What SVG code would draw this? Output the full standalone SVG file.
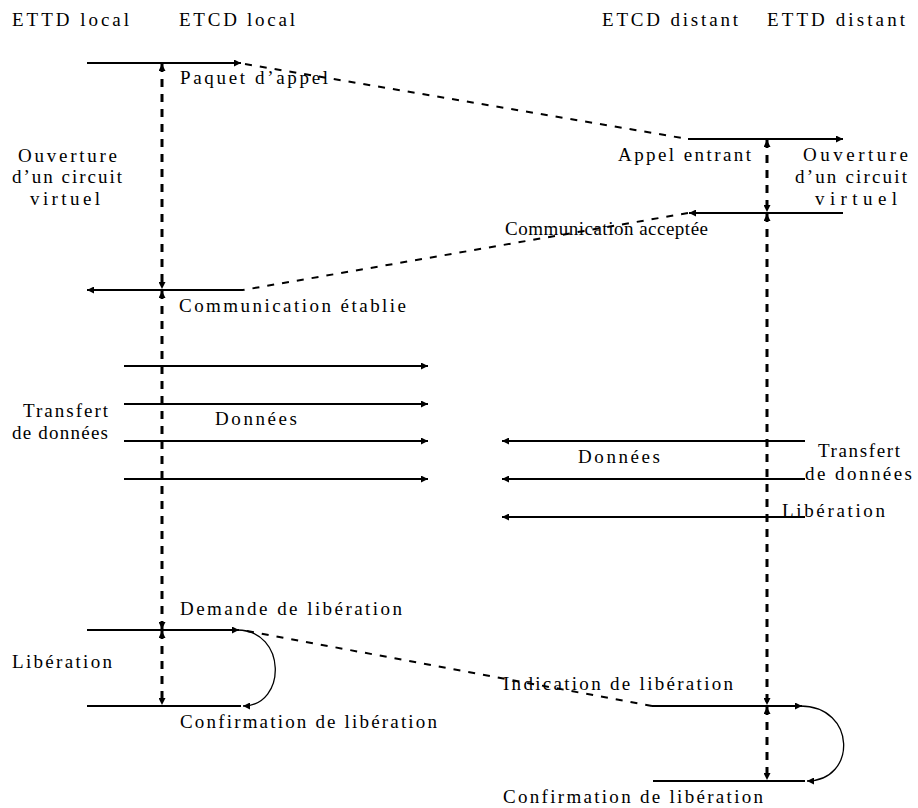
<svg xmlns="http://www.w3.org/2000/svg" width="918" height="808" viewBox="0 0 918 808">
<style>
text{font-family:"Liberation Serif","DejaVu Serif",serif;font-size:19px;fill:#000}
.msg{fill:none;stroke:#000;stroke-width:2}
.dash{fill:none;stroke:#000;stroke-width:2;stroke-dasharray:7 8}
.vdash{fill:none;stroke:#000;stroke-width:3;stroke-dasharray:8 7}
.curve{fill:none;stroke:#000;stroke-width:1.3}
</style>
<defs>
<marker id="ah" viewBox="0 0 10 10" refX="10" refY="5" markerUnits="userSpaceOnUse" markerWidth="10" markerHeight="7" orient="auto-start-reverse">
<path d="M0,0 L10,5 L0,10 z" fill="#000"/>
</marker>
</defs>
<rect width="918" height="808" fill="#fff"/>
<g id="titles">
<text x="12" y="26" textLength="117">ETTD local</text>
<text x="179" y="26" textLength="116">ETCD local</text>
<text x="602" y="26" textLength="136">ETCD distant</text>
<text x="767" y="26" textLength="138">ETTD distant</text>
</g>
<g id="connectors">
<path class="msg" d="M87,63 H241" marker-end="url(#ah)"/>
<path class="dash" d="M245,64 L688,139"/>
<path class="msg" d="M688,139 H843" marker-end="url(#ah)"/>
<path class="msg" d="M843,213 H689" marker-end="url(#ah)"/>
<path class="dash" d="M688,213 L243,290"/>
<path class="msg" d="M243,290 H87" marker-end="url(#ah)"/>
<path class="msg" d="M124,366 H428" marker-end="url(#ah)"/>
<path class="msg" d="M124,404 H428" marker-end="url(#ah)"/>
<path class="msg" d="M124,441 H428" marker-end="url(#ah)"/>
<path class="msg" d="M124,479 H428" marker-end="url(#ah)"/>
<path class="msg" d="M805,441 H502" marker-end="url(#ah)"/>
<path class="msg" d="M805,479 H502" marker-end="url(#ah)"/>
<path class="msg" d="M805,517 H502" marker-end="url(#ah)"/>
<path class="msg" d="M87,630 H239" marker-end="url(#ah)"/>
<path class="curve" d="M237,630 C287,630 287,706 243,706" marker-end="url(#ah)"/>
<path class="msg" d="M87,706 H241"/>
<path class="dash" d="M247,631 L652,706"/>
<path class="msg" d="M652,706 H802" marker-end="url(#ah)"/>
<path class="curve" d="M800,706 C857,706 857,781 807,781" marker-end="url(#ah)"/>
<path class="msg" d="M653,781 H805"/>
<path class="vdash" d="M162,64 V289" marker-start="url(#ah)" marker-end="url(#ah)"/>
<path class="vdash" d="M162,291 V629" marker-start="url(#ah)" marker-end="url(#ah)"/>
<path class="vdash" d="M162,631 V705" marker-start="url(#ah)" marker-end="url(#ah)"/>
<path class="vdash" d="M767,140 V212" marker-start="url(#ah)" marker-end="url(#ah)"/>
<path class="vdash" d="M767,214 V705" marker-start="url(#ah)" marker-end="url(#ah)"/>
<path class="vdash" d="M767,707 V780" marker-start="url(#ah)" marker-end="url(#ah)"/>
</g>
<g id="open-local">
<text x="18" y="162" textLength="99">Ouverture</text>
<text x="12" y="183" textLength="110">d’un circuit</text>
<text x="30" y="205" textLength="70">virtuel</text>
</g>
<g id="open-distant">
<text x="803" y="161" textLength="105">Ouverture</text>
<text x="795" y="183" textLength="112">d’un circuit</text>
<text x="815" y="205" textLength="82">virtuel</text>
</g>
<g id="call-packet"><text x="180" y="84" textLength="148">Paquet d’appel</text></g>
<g id="incoming-call"><text x="618" y="161" textLength="133">Appel entrant</text></g>
<g id="call-accepted"><text x="505" y="235" textLength="203">Communication acceptée</text></g>
<g id="connection-established"><text x="179" y="312" textLength="227">Communication établie</text></g>
<g id="transfer-local">
<text x="23" y="417" textLength="85">Transfert</text>
<text x="12" y="439" textLength="96">de données</text>
</g>
<g id="data-local"><text x="215" y="425" textLength="82">Données</text></g>
<g id="data-distant"><text x="578" y="463" textLength="82">Données</text></g>
<g id="transfer-distant">
<text x="818" y="457" textLength="82">Transfert</text>
<text x="805" y="480" textLength="107">de données</text>
</g>
<g id="release-distant"><text x="782" y="517" textLength="103">Libération</text></g>
<g id="release-request"><text x="180" y="615" textLength="222">Demande de libération</text></g>
<g id="release-local"><text x="12" y="668" textLength="100">Libération</text></g>
<g id="release-confirm-local"><text x="180" y="728" textLength="257">Confirmation de libération</text></g>
<g id="release-indication"><text x="503" y="690" textLength="230">Indication de libération</text></g>
<g id="release-confirm-distant"><text x="503" y="803" textLength="260">Confirmation de libération</text></g>
</svg>
